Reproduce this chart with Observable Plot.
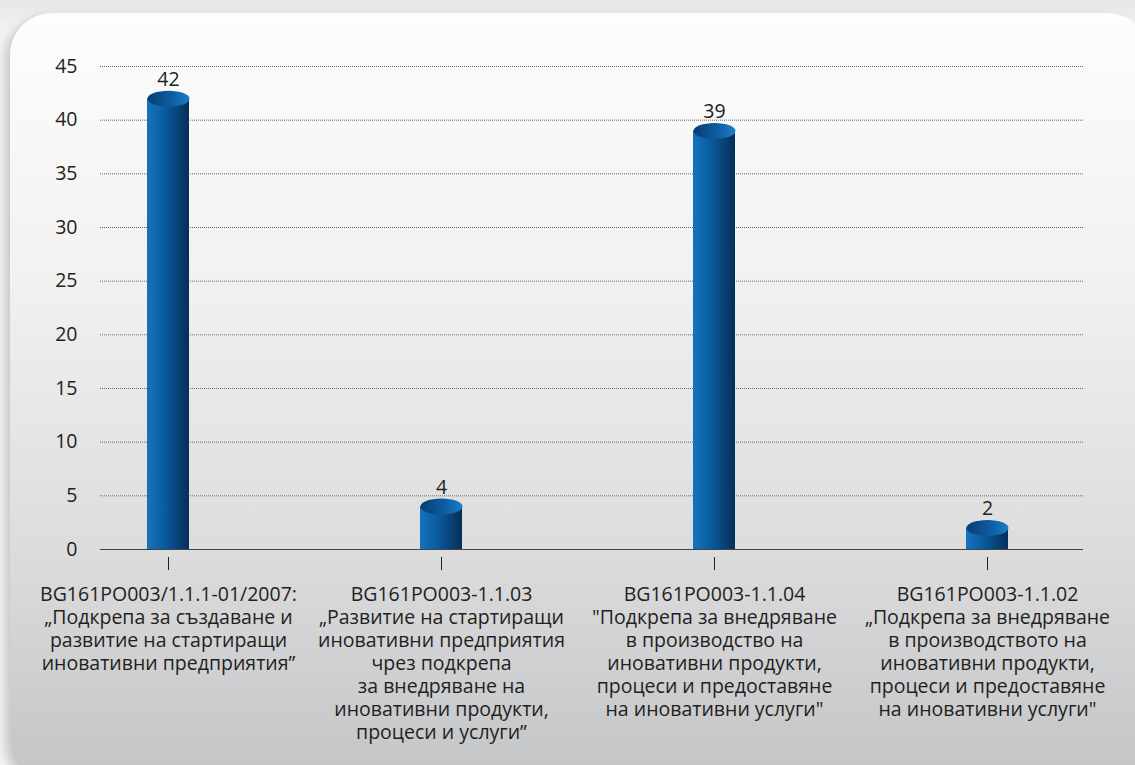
<!DOCTYPE html>
<html>
<head>
<meta charset="utf-8">
<script src="https://cdn.jsdelivr.net/npm/d3@7"></script>
<script src="https://cdn.jsdelivr.net/npm/@observablehq/plot@0.6"></script>
<style>
  html, body { margin: 0; padding: 0; }
  body { width: 1135px; height: 765px; overflow: hidden; position: relative;
         background: linear-gradient(#e6e6e6, #f2f2f2 30px, #f4f4f4); }
  #panel { position: absolute; left: 10px; top: 13px; width: 1140px; height: 770px;
           border-radius: 42px;
           background: linear-gradient(#fdfdfd 0%, #f1f1f1 35%, #dcdcdd 70%, #c3c4c6 100%);
           box-shadow: -5px 4px 10px rgba(0,0,0,0.18); }
  #chart { position: absolute; left: 0; top: 0; }
</style>
</head>
<body>
<div id="panel"></div>
<div id="chart"></div>
<script>
const codes = [
  "BG161PO003/1.1.1-01/2007:",
  "BG161PO003-1.1.03",
  "BG161PO003-1.1.04",
  "BG161PO003-1.1.02"
];
const titles = [
  "„Подкрепа за създаване и\nразвитие на стартиращи\nиновативни предприятия”",
  "„Развитие на стартиращи\nиновативни предприятия\nчрез подкрепа\nза внедряване на\nиновативни продукти,\nпроцеси и услуги”",
  "\"Подкрепа за внедряване\nв производство на\nиновативни продукти,\nпроцеси и предоставяне\nна иновативни услуги\"",
  "„Подкрепа за внедряване\nв производството на\nиновативни продукти,\nпроцеси и предоставяне\nна иновативни услуги\""
];
const values = [42, 4, 39, 2];
const yTicks = [0, 5, 10, 15, 20, 25, 30, 35, 40, 45];

const data = codes.map((c, i) => ({code: c, title: titles[i], value: values[i]}));
const labelOf = new Map(data.map(d => [d.code, d.code + "\n" + d.title]));

const ellipse = {
  draw(ctx, size) {
    const rx = Math.sqrt(size / Math.PI), ry = rx * 0.38, k = 0.5523;
    ctx.moveTo(rx, 0);
    ctx.bezierCurveTo(rx, ry * k, rx * k, ry, 0, ry);
    ctx.bezierCurveTo(-rx * k, ry, -rx, ry * k, -rx, 0);
    ctx.bezierCurveTo(-rx, -ry * k, -rx * k, -ry, 0, -ry);
    ctx.bezierCurveTo(rx * k, -ry, rx, -ry * k, rx, 0);
    ctx.closePath();
  }
};

const chart = Plot.plot({
  width: 1135,
  height: 765,
  marginLeft: 100,
  marginRight: 52,
  marginTop: 66,
  marginBottom: 208,
  style: {fontFamily: "'Open Sans', sans-serif", fontSize: "19.5px", color: "#231f20", background: "transparent", overflow: "visible"},
  x: {type: "band", domain: codes, range: [92, 1064], paddingInner: 0.846, paddingOuter: 0.2, label: null},
  y: {domain: [0, 45], range: [549, 66], label: null},
  marks: [
    Plot.gridY({ticks: yTicks.filter(t => t > 0), stroke: "#666", strokeOpacity: 1, strokeDasharray: "1,1"}),
    Plot.ruleY([0], {stroke: "#444", strokeWidth: 1.2}),
    Plot.axisY({ticks: yTicks, tickSize: 0, tickPadding: 23, fill: "#231f20"}),
    Plot.axisX({tickSize: 13, tickPadding: 14, stroke: "#231f20", tickFormat: d => labelOf.get(d), lineHeight: 1.18, fill: "#231f20"}),
    Plot.barY(data, {x: "code", y: "value", fill: "url(#barGrad)"}),
    Plot.dot(data, {x: "code", y: "value", r: 21, symbol: ellipse, fill: "url(#topGrad)", stroke: "none"}),
    Plot.text(data, {x: "code", y: "value", text: d => String(d.value), lineAnchor: "bottom", dy: -13, fill: "#231f20"})
  ]
});

const defs = d3.select(chart).insert("defs", ":first-child");
const bg = defs.append("linearGradient").attr("id", "barGrad").attr("x1", 0).attr("x2", 1).attr("y1", 0).attr("y2", 0);
bg.append("stop").attr("offset", "0%").attr("stop-color", "#1673bb");
bg.append("stop").attr("offset", "35%").attr("stop-color", "#0b60a6");
bg.append("stop").attr("offset", "100%").attr("stop-color", "#062e58");
const tg = defs.append("linearGradient").attr("id", "topGrad").attr("x1", 0).attr("x2", 1).attr("y1", 0).attr("y2", 0);
tg.append("stop").attr("offset", "0%").attr("stop-color", "#073d73");
tg.append("stop").attr("offset", "60%").attr("stop-color", "#0e5fa3");
tg.append("stop").attr("offset", "100%").attr("stop-color", "#1d7ec6");

document.getElementById("chart").appendChild(chart);
</script>
</body>
</html>
